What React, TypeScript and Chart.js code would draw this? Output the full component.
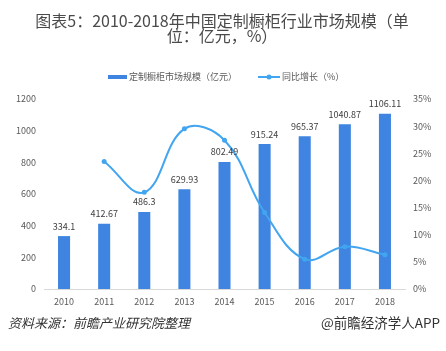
import React, { useEffect, useRef } from "react";
import { Chart, registerables } from "chart.js";

Chart.register(...registerables);

const years = ["2010", "2011", "2012", "2013", "2014", "2015", "2016", "2017", "2018"];
const marketSize = [334.1, 412.67, 486.3, 629.93, 802.49, 915.24, 965.37, 1040.87, 1106.11];
const growthPct = [null, 23.5, 17.8, 29.5, 27.4, 14.1, 5.5, 7.8, 6.3];
const sizeLabels = ["334.1", "412.67", "486.3", "629.93", "802.49", "915.24", "965.37", "1040.87", "1106.11"];
const titleLines = ["图表5：2010-2018年中国定制橱柜行业市场规模（单", "位：亿元，%）"];
const legendBar = "定制橱柜市场规模（亿元）";
const legendLine = "同比增长（%）";
const sourceText = "资料来源：前瞻产业研究院整理";
const brandText = "@前瞻经济学人APP";

const BAR_COLOR = "#3E84E0";
const LINE_COLOR = "#42A5F0";
const FONT = "'Noto Sans CJK SC', 'Noto Sans', sans-serif";

const decorPlugin = {
  id: "decor",
  afterDraw(chart: any) {
    const ctx = chart.ctx;
    ctx.save();
    // title
    ctx.fillStyle = "#4a4a4a";
    ctx.font = `16px ${FONT}`;
    ctx.textAlign = "center";
    ctx.textBaseline = "middle";
    ctx.fillText(titleLines[0], 222, 21);
    ctx.fillText(titleLines[1], 222, 36);

    // legend
    ctx.fillStyle = BAR_COLOR;
    ctx.fillRect(108, 75, 19, 4);
    ctx.font = `9px ${FONT}`;
    ctx.fillStyle = "#595959";
    ctx.textAlign = "left";
    ctx.fillText(legendBar, 129, 77);
    ctx.strokeStyle = LINE_COLOR;
    ctx.lineWidth = 2;
    ctx.beginPath();
    ctx.moveTo(258, 77);
    ctx.lineTo(280, 77);
    ctx.stroke();
    ctx.fillStyle = LINE_COLOR;
    ctx.beginPath();
    ctx.arc(269, 77, 2.5, 0, Math.PI * 2);
    ctx.fill();
    ctx.fillStyle = "#595959";
    ctx.fillText(legendLine, 282, 77);

    // bar value labels
    const meta = chart.getDatasetMeta(0);
    ctx.font = `9px ${FONT}`;
    ctx.fillStyle = "#404040";
    ctx.textAlign = "center";
    meta.data.forEach((bar: any, i: number) => {
      ctx.fillText(sizeLabels[i], bar.x, bar.y - 10);
    });

    // footer
    ctx.font = `italic 13px ${FONT}`;
    ctx.fillStyle = "#333333";
    ctx.textAlign = "left";
    ctx.fillText(sourceText, 8, 323);
    ctx.font = `13.5px ${FONT}`;
    ctx.textAlign = "right";
    ctx.fillText(brandText, 440, 323);
    ctx.restore();
  },
};

export default function App() {
  const ref = useRef<HTMLCanvasElement>(null);
  useEffect(() => {
    if (!ref.current) return;
    const chart = new Chart(ref.current, {
      type: "bar",
      data: {
        labels: years,
        datasets: [
          {
            type: "bar",
            label: legendBar,
            data: marketSize,
            backgroundColor: BAR_COLOR,
            barPercentage: 0.3,
            categoryPercentage: 1,
            yAxisID: "y",
            order: 1,
          },
          {
            type: "line",
            label: legendLine,
            data: growthPct as any,
            borderColor: LINE_COLOR,
            backgroundColor: LINE_COLOR,
            borderWidth: 2,
            pointRadius: 2.5,
            pointBackgroundColor: LINE_COLOR,
            pointBorderWidth: 0,
            tension: 0.4,
            yAxisID: "y1",
            order: 0,
          },
        ],
      },
      options: {
        animation: false,
        responsive: true,
        maintainAspectRatio: false,
        layout: { padding: { top: 99, bottom: 42, left: 0, right: 0 } },
        plugins: {
          legend: { display: false },
          title: { display: false },
          tooltip: { enabled: false },
        },
        scales: {
          x: {
            grid: { display: false, drawTicks: false },
            border: { display: true, color: "#d9d9d9", width: 1 },
            ticks: { color: "#595959", font: { size: 9, family: FONT }, padding: 7 },
            afterFit: (s: any) => {
              s.height = 20;
            },
          },
          y: {
            position: "left",
            min: 0,
            max: 1200,
            grid: { display: false, drawTicks: false },
            border: { display: false },
            ticks: {
              stepSize: 200,
              color: "#595959",
              font: { size: 9, family: FONT },
              padding: 8,
              callback: (v: any) => String(Math.round(Number(v))),
            },
            afterFit: (s: any) => {
              s.width = 44;
            },
          },
          y1: {
            position: "right",
            min: 0,
            max: 35,
            grid: { display: false, drawTicks: false },
            border: { display: false },
            ticks: {
              stepSize: 5,
              color: "#595959",
              font: { size: 9, family: FONT },
              padding: 8,
              callback: (v: any) => `${Math.round(Number(v))}%`,
            },
            afterFit: (s: any) => {
              s.width = 41;
            },
          },
        },
      },
      plugins: [decorPlugin],
    });
    return () => chart.destroy();
  }, []);
  return (
    <div style={{ position: "fixed", left: 0, top: 0, width: 446, height: 351, background: "#fff" }}>
      <canvas ref={ref} />
    </div>
  );
}
